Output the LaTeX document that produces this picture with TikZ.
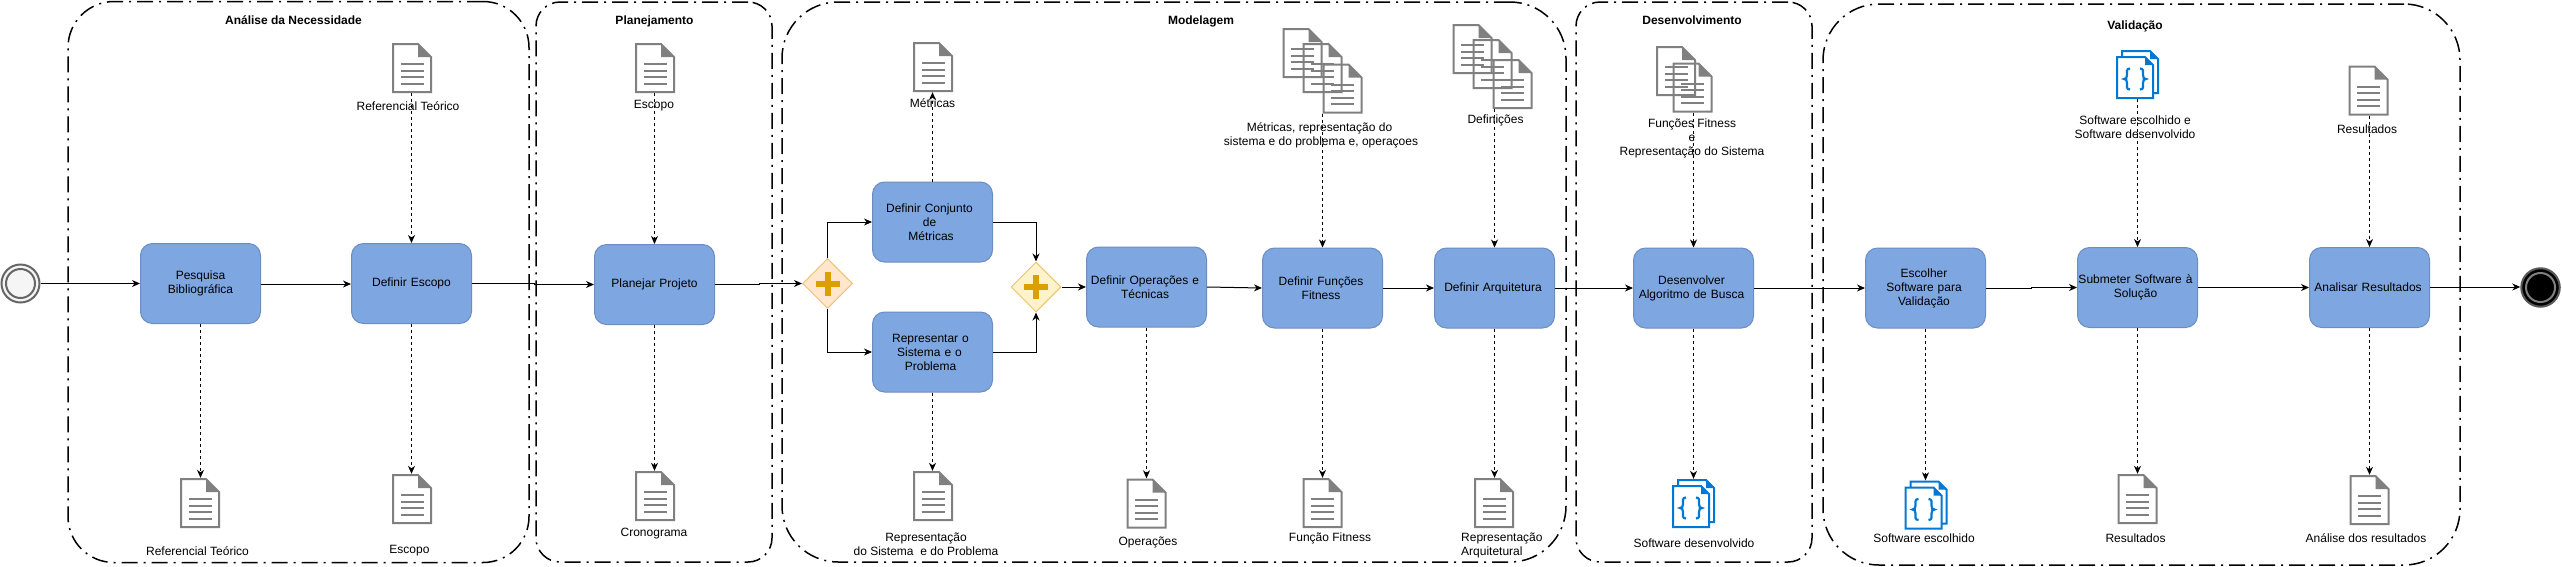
\documentclass[tikz,border=0pt]{standalone}
\usepackage{fontspec}
\setmainfont{Liberation Sans}
\usetikzlibrary{arrows.meta,shapes.geometric,calc}
\definecolor{taskfill}{HTML}{7EA6E0}
\definecolor{taskline}{HTML}{6C8EBF}
\definecolor{docgray}{HTML}{808080}
\definecolor{codeblue}{HTML}{0078D4}
\definecolor{plusc}{HTML}{DBA000}
\definecolor{gateA}{HTML}{FFE6CC}
\definecolor{gateB}{HTML}{FFF2CC}
\definecolor{gateline}{HTML}{EBC768}
\newcommand{\docicon}[3]{%
  \node[docn] (#1) at (#2,#3) {};
  \begin{scope}[shift={(#2-20,#3-25)}]
    \draw[docgray,line width=2pt,miter limit=10] (1,1) -- (26,1) -- (39,14) -- (39,49) -- (1,49) -- cycle;
    \fill[docgray] (26,1) -- (39,14) -- (26,14) -- cycle;
    \draw[docgray,line width=2pt] (8.5,21) -- (31.5,21) (8.5,27.5) -- (31.5,27.5) (8.5,34) -- (31.5,34) (8.5,40.5) -- (31.5,40.5);
  \end{scope}}
\newcommand{\codeicon}[3]{%
  \node[coden] (#1) at (#2,#3) {};
  \begin{scope}[shift={(#2-21.5,#3-24.5)}]
    \draw[codeblue,line width=2pt,fill=white] (6,1) -- (34,1) -- (42,9) -- (42,43) -- (6,43) -- cycle;
    \fill[codeblue] (34,1) -- (42,9) -- (34,9) -- cycle;
    \draw[codeblue,line width=2pt,fill=white] (1,7) -- (29,7) -- (37,15) -- (37,48) -- (1,48) -- cycle;
    \fill[codeblue] (29,7) -- (37,15) -- (29,15) -- cycle;
    \draw[codeblue,line width=2.2pt] (14,18.5) .. controls (10,18.5) and (11,22) .. (11,25) .. controls (11,28) and (10,29) .. (8,29) .. controls (10,29) and (11,30) .. (11,33) .. controls (11,36) and (10,39.5) .. (14,39.5);
    \draw[codeblue,line width=2.2pt] (24,18.5) .. controls (28,18.5) and (27,22) .. (27,25) .. controls (27,28) and (28,29) .. (30,29) .. controls (28,29) and (27,30) .. (27,33) .. controls (27,36) and (28,39.5) .. (24,39.5);
  \end{scope}}
\newcommand{\plusglyph}{%
  \fill[plusc] ($(path picture bounding box.center)+(-12,-3)$) rectangle ($(path picture bounding box.center)+(12,3)$);
  \fill[plusc] ($(path picture bounding box.center)+(-3,-12)$) rectangle ($(path picture bounding box.center)+(3,12)$);}
\newcommand{\nudge}[1]{\hspace*{-#1pt}}
\tikzset{
  base/.style={font=\fontsize{12pt}{14pt}\selectfont},
  group/.style={rectangle,draw=black,line width=1.5pt,dash pattern=on 16pt off 6pt on 2pt off 6pt,inner sep=0pt},
  title/.style={base,font=\fontsize{12pt}{14pt}\selectfont\bfseries,inner sep=0pt,text depth=0pt},
  lbl/.style={base,align=center,inner sep=0pt},
  lbll/.style={base,align=left,inner sep=0pt,anchor=west},
  task/.style={base,rectangle,rounded corners=12pt,fill=taskfill,draw=taskline,line width=1pt,minimum width=120pt,minimum height=80pt,inner sep=0pt,text width=120pt,align=center},
  docn/.style={rectangle,inner sep=0pt,minimum width=40pt,minimum height=50pt},
  coden/.style={rectangle,inner sep=0pt,minimum width=43pt,minimum height=49pt},
  gate/.style={diamond,aspect=1,inner sep=0pt,minimum width=50pt,minimum height=50pt,draw=gateline,line width=1pt,path picture={\plusglyph}},
  flow/.style={draw=black,line width=1pt,-{Stealth[length=8pt,width=7pt,inset=2.5pt]}},
  dep/.style={draw=black,line width=0.85pt,dash pattern=on 3pt off 3pt,-{Stealth[length=8pt,width=7pt,inset=2.5pt]}},
}
\begin{document}
\begin{tikzpicture}[x=1pt,y=-1pt]
\useasboundingbox (0,0) rectangle (2562,566);
% groups
\node[group,rounded corners=46pt,minimum width=461pt,minimum height=561pt] (gA) at (298.5,282) {};
\node[group,rounded corners=24pt,minimum width=236pt,minimum height=560pt] (gP) at (654,282) {};
\node[group,rounded corners=56pt,minimum width=784pt,minimum height=560pt] (gM) at (1174,282) {};
\node[group,rounded corners=24pt,minimum width=236pt,minimum height=560pt] (gD) at (1694,282) {};
\node[group,rounded corners=56pt,minimum width=637pt,minimum height=561pt] (gV) at (2141.5,284.5) {};
\node[title] (tA) at (293.5,20.5) {Análise da Necessidade};
\node[title] (tP) at (654.5,20.5) {Planejamento};
\node[title] (tM) at (1201,20.5) {Modelagem};
\node[title] (tD) at (1692,20.5) {Desenvolvimento};
\node[title] (tV) at (2135,25.5) {Validação};
% events
\node[circle,draw=black!60,fill=black!4,line width=2pt,minimum size=38pt,inner sep=0pt,path picture={\draw[black!60,line width=2pt] (path picture bounding box.center) circle (14.5);}] (start) at (20.5,283.5) {};
\node[circle,draw=black!65,fill=black,line width=2pt,minimum size=38.5pt,inner sep=0pt,path picture={\draw[black!50,line width=2pt] (path picture bounding box.center) circle (14.5);}] (stop) at (2540.5,287.5) {};
% tasks
\node[task] (pq) at (200.5,283.5) {Pesquisa\\Bibliográfica};
\node[task] (es) at (411.5,283.5) {Definir Escopo};
\node[task] (pl) at (654.5,284.5) {Planejar Projeto};
\node[task] (cj) at (932.5,222) {\nudge{6}Definir Conjunto\\\nudge{6}de\\\nudge{3}Métricas};
\node[task] (rp) at (932.5,352) {\nudge{4}Representar o\\\nudge{6}Sistema e o\\\nudge{4}Problema};
\node[task] (op) at (1146.5,287) {\nudge{3}Definir Operações e\\\nudge{3}Técnicas};
\node[task] (fn) at (1322.5,288) {\nudge{3}Definir Funções\\\nudge{3}Fitness};
\node[task] (ar) at (1494.5,288) {\nudge{3}Definir Arquitetura};
\node[task] (dv) at (1693.5,288) {\nudge{4}Desenvolver\\\nudge{4}Algoritmo de Busca};
\node[task] (ev) at (1925.5,288) {\nudge{3}Escolher\\\nudge{3}Software para\\\nudge{3}Validação};
\node[task] (sb) at (2137.5,287.5) {\nudge{4}Submeter Software à\\\nudge{4}Solução};
\node[task] (an) at (2369.5,287.5) {\nudge{3}Analisar Resultados};
% gateways
\node[gate,fill=gateA] (g1) at (827.5,283.5) {};
\node[gate,fill=gateB] (g2) at (1036,287) {};
% documents
\docicon{rt1}{412}{68}
\docicon{ec1}{655}{68}
\docicon{rt2}{200}{503}
\docicon{ec2}{412}{499}
\docicon{cr}{655}{496}
\docicon{mt}{933}{67}
\docicon{ma}{1302.5}{53}
\docicon{mb}{1322.5}{68}
\docicon{mc}{1342.5}{88.5}
\docicon{dfa}{1472.5}{49}
\docicon{dfb}{1492.5}{64}
\docicon{dfc}{1512.5}{84}
\docicon{rs}{933}{496}
\docicon{opd}{1146.5}{503.5}
\docicon{ff}{1322.5}{503}
\docicon{ra}{1494}{503}
\docicon{fa}{1676}{71}
\docicon{fb}{1692.5}{87.5}
\codeicon{sd}{1693.5}{503.5}
\codeicon{se}{1926}{505}
\codeicon{st}{2137.5}{74.5}
\docicon{r1}{2368.5}{90.5}
\docicon{r2}{2137.5}{499}
\docicon{r3}{2369.5}{500}
% sequence flows
\coordinate (k1) at (534,0);
\coordinate (k2) at (759,0);
\coordinate (k3) at (2031,0);
\draw[flow] (start.east) -- (pq.west);
\draw[flow,transform canvas={yshift=-0.5pt}] (pq.east) -- (es.west);
\draw[flow] (es.east) -- (es.east -| k1) -- (pl.west -| k1) -- (pl.west);
\draw[flow] (pl.east) -- (pl.east -| k2) -- (g1.west -| k2) -- (g1.west);
\draw[flow] (g1.north) |- (cj.west);
\draw[flow] (g1.south) |- (rp.west);
\draw[flow] (cj.east) -| (g2.north);
\draw[flow] (rp.east) -| (g2.south);
\draw[flow] (g2.east) -- (op.west);
\draw[flow] (op.east) -- (fn.west);
\draw[flow] (fn.east) -- (ar.west);
\draw[flow] (ar.east) -- (dv.west);
\draw[flow] (dv.east) -- (ev.west);
\draw[flow] (ev.east) -- (ev.east -| k3) -- (sb.west -| k3) -- (sb.west);
\draw[flow] (sb.east) -- (an.west);
\draw[flow,transform canvas={yshift=0.5pt}] (an.east) -- (stop.west);
% data associations
\draw[dep] (rt1.south -| es.north) -- (es.north);
\draw[dep] (ec1.south -| pl.north) -- (pl.north);
\draw[dep] (pq.south) -- (pq.south |- rt2.north);
\draw[dep] (es.south) -- (es.south |- ec2.north);
\draw[dep] (pl.south) -- (pl.south |- cr.north);
\draw[dep] (cj.north) -- (cj.north |- mt.south);
\draw[dep] (rp.south) -- (rp.south |- rs.north);
\draw[dep] (op.south) -- (op.south |- opd.north);
\draw[dep] (mc.south -| fn.north) -- (fn.north);
\draw[dep] (fn.south) -- (fn.south |- ff.north);
\draw[dep] (dfc.south -| ar.north) -- (ar.north);
\draw[dep] (ar.south) -- (ar.south |- ra.north);
\draw[dep] (fb.south -| dv.north) -- (dv.north);
\draw[dep] (dv.south) -- (dv.south |- sd.north);
\draw[dep] (ev.south) -- (ev.south |- se.north);
\draw[dep] (st.south -| sb.north) -- (sb.north);
\draw[dep] (sb.south) -- (sb.south |- r2.north);
\draw[dep] (r1.south -| an.north) -- (an.north);
\draw[dep] (an.south) -- (an.south |- r3.north);
% labels
\node[lbl] (l1) at (408,106) {Referencial Teórico};
\node[lbl] (l2) at (654,106) {Escopo};
\node[lbl] (l3) at (197.5,551) {Referencial Teórico};
\node[lbl] (l4) at (409.5,551) {Escopo};
\node[lbl] (l5) at (654,534) {Cronograma};
\node[lbl] (l6) at (932.5,103.5) {Métricas};
\node[lbl] (l7) at (1321,135) {\nudge{3}Métricas, representação do\\sistema e do problema e, operaçoes};
\node[lbl] (l8) at (1495.5,120) {Definições};
\node[lbl] (l9) at (926,544) {Representação\\do Sistema~~e do Problema};
\node[lbl] (l10) at (1148,542) {Operações};
\node[lbl] (l11) at (1330,538) {Função Fitness};
\node[lbll] (l12) at (1461,545) {Representação\\Arquitetural};
\node[lbl] (l13) at (1692,138) {Funções Fitness\\e\\Representação do Sistema};
\node[lbl] (l14) at (1694,543) {Software desenvolvido};
\node[lbl] (l15) at (1924,538.5) {Software escolhido};
\node[lbl] (l16) at (2135,127.5) {Software escolhido e\\Software desenvolvido};
\node[lbl] (l17) at (2367,129) {Resultados};
\node[lbl] (l18) at (2135.5,538) {Resultados};
\node[lbl] (l19) at (2366,538.5) {Análise dos resultados};
\end{tikzpicture}
\end{document}
